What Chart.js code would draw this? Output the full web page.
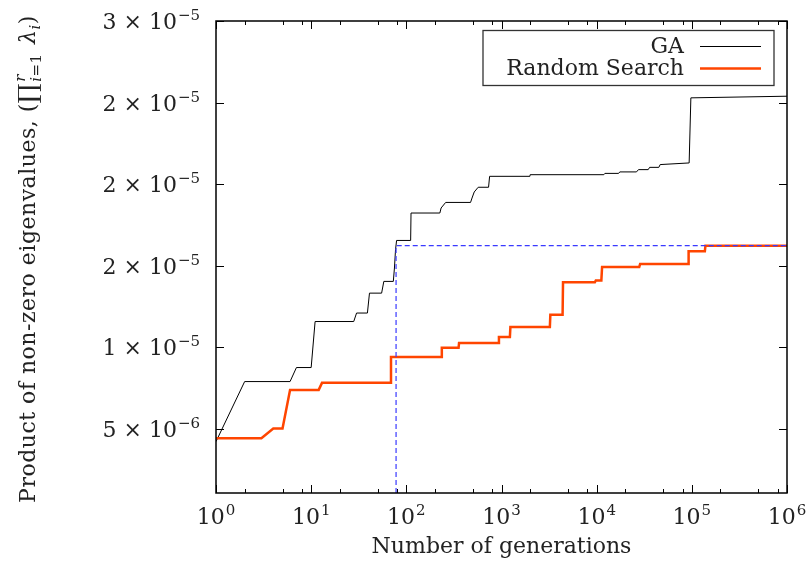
<!DOCTYPE html>
<html>
<head>
<meta charset="utf-8">
<title>GA vs Random Search</title>
<script src="https://cdn.jsdelivr.net/npm/chart.js"></script>
<style>
  html, body { margin: 0; padding: 0; background: #fff; }
  #chart-wrap { width: 807px; height: 566px; }
</style>
</head>
<body>
<div id="chart-wrap"><canvas id="eigen-chart" width="807" height="566"></canvas></div>
<script>
// Best product of non-zero eigenvalues found so far, in units of 1e-6,
// against the generation at which it was reached.
const gaGenerations = [1, 2, 6, 7, 10, 11, 28, 30, 39, 41, 55, 58, 73, 75, 77, 79, 111, 112, 225, 232,
  259, 473, 490, 517, 569, 731, 750, 1988, 2000, 11900, 12200, 17000, 17500, 26200, 27500, 34800,
  36000, 45000, 46500, 93700, 97700, 1000000];
const gaProduct = [4.22, 7.90, 7.90, 8.76, 8.76, 11.58, 11.58, 12.10, 12.10, 13.32, 13.32, 14.04, 14.04,
  14.86, 15.98, 16.55, 16.55, 18.23, 18.23, 18.54, 18.88, 18.88, 19.15, 19.52, 19.81, 19.81, 20.48,
  20.48, 20.58, 20.58, 20.66, 20.66, 20.75, 20.75, 20.89, 20.89, 21.03, 21.03, 21.20, 21.30, 25.29, 25.39];

const rsGenerations = [1, 3, 4, 5, 6, 12, 13, 68, 69, 233, 236, 354, 358, 923, 940, 1225, 1240, 3223,
  3260, 4385, 4430, 9570, 9800, 11200, 11400, 28000, 28600, 91400, 92500, 137000, 139000, 1000000];
const rsProduct = [4.43, 4.43, 5.02, 5.02, 7.39, 7.39, 7.82, 7.82, 9.40, 9.40, 9.97, 9.97, 10.26, 10.26,
  10.63, 10.63, 11.24, 11.24, 11.99, 11.99, 13.98, 13.98, 14.10, 14.10, 14.92, 14.92, 15.10, 15.10,
  15.88, 15.88, 16.23, 16.23];

// generation where GA passes the final random search value
const crossGeneration = 78;
const crossLevel = 16.23;

// axes
const xMin = 1, xMax = 1e6;
const yMin = 1.07, yMax = 30;
const xTickExponents = [0, 1, 2, 3, 4, 5, 6];
const xMinorSteps = [2, 5, 8];
const yTickValues = [5, 10, 15, 20, 25, 30];
const yTickMantissas = ['5', '1', '2', '2', '2', '3'];
const yTickExponents = ['\u22126', '\u22125', '\u22125', '\u22125', '\u22125', '\u22125'];

const FONT_FAMILY = '"DejaVu Serif", serif';
const MAIN_FONT = '22px ' + FONT_FAMILY;
const SUP_FONT = '15px ' + FONT_FAMILY;
const TEXT_COLOR = '#222';

const toPoints = (xs, ys) => xs.map((x, i) => ({ x: x, y: ys[i] }));

// writes base with a raised exponent, anchored right or centred on x
function drawPower(ctx, base, exp, x, baseline, align) {
    ctx.font = MAIN_FONT;
    const wb = ctx.measureText(base).width;
    ctx.font = SUP_FONT;
    const we = ctx.measureText(exp).width;
    const total = wb + 1 + we;
    const start = align === 'right' ? x - total : x - total / 2;
    ctx.textAlign = 'left';
    ctx.font = MAIN_FONT;
    ctx.fillText(base, start, baseline);
    ctx.font = SUP_FONT;
    ctx.fillText(exp, start + wb + 1, baseline - 9);
}

function drawYTitle(ctx, cx, cy) {
    const italicSmall = 'italic ' + SUP_FONT;
    const pieces = [
        { t: 'Product of non-zero eigenvalues, (', f: MAIN_FONT, dy: 0 },
        { t: '\u220F', f: '25px ' + FONT_FAMILY, dy: 1 },
        { stack: true },
        { t: ' ', f: MAIN_FONT, dy: 0 },
        { t: '\u03BB', f: 'italic ' + MAIN_FONT, dy: 0 },
        { t: 'i', f: italicSmall, dy: 5 },
        { t: ')', f: MAIN_FONT, dy: 0 }
    ];
    ctx.save();
    ctx.letterSpacing = '0.5px';
    // width of the stacked limits: i=1 below, r above
    ctx.font = italicSmall;
    const wi = ctx.measureText('i').width;
    const wr = ctx.measureText('r').width;
    ctx.font = SUP_FONT;
    const wEq = ctx.measureText('=1').width;
    const stackW = Math.max(wi + wEq, wr) + 3;

    let total = 0;
    pieces.forEach(p => {
        if (p.stack) { p.w = stackW; } else { ctx.font = p.f; p.w = ctx.measureText(p.t).width; }
        total += p.w;
    });

    ctx.translate(cx, cy);
    ctx.rotate(-Math.PI / 2);
    ctx.textAlign = 'left';
    let x = -total / 2;
    pieces.forEach(p => {
        if (p.stack) {
            ctx.font = italicSmall;
            ctx.fillText('r', x + 1, -10);
            ctx.fillText('i', x + 1, 6);
            ctx.font = SUP_FONT;
            ctx.fillText('=1', x + 1 + wi, 6);
        } else {
            ctx.font = p.f;
            ctx.fillText(p.t, x, p.dy);
        }
        x += p.w;
    });
    ctx.restore();
}

// frame, inward ticks, labels and key in the usual gnuplot look
const gnuplotFrame = {
    id: 'gnuplotFrame',
    afterDraw(chart) {
        const ctx = chart.ctx;
        const area = chart.chartArea;
        const xs = chart.scales.x;
        const ys = chart.scales.y;

        ctx.save();
        ctx.strokeStyle = '#000';
        ctx.lineWidth = 1;
        ctx.beginPath();
        xTickExponents.forEach(e => {
            const px = Math.round(xs.getPixelForValue(Math.pow(10, e))) + 0.5;
            ctx.moveTo(px, area.bottom); ctx.lineTo(px, area.bottom - 8);
            ctx.moveTo(px, area.top); ctx.lineTo(px, area.top + 8);
            if (e < 6) {
                xMinorSteps.forEach(m => {
                    const mx = Math.round(xs.getPixelForValue(m * Math.pow(10, e))) + 0.5;
                    ctx.moveTo(mx, area.bottom); ctx.lineTo(mx, area.bottom - 4);
                    ctx.moveTo(mx, area.top); ctx.lineTo(mx, area.top + 4);
                });
            }
        });
        yTickValues.forEach(v => {
            const py = Math.round(ys.getPixelForValue(v)) + 0.5;
            ctx.moveTo(area.left, py); ctx.lineTo(area.left + 8, py);
            ctx.moveTo(area.right, py); ctx.lineTo(area.right - 8, py);
        });
        ctx.stroke();

        ctx.lineWidth = 1.5;
        ctx.strokeRect(area.left, area.top, area.right - area.left, area.bottom - area.top);

        // tick labels
        ctx.fillStyle = TEXT_COLOR;
        ctx.textBaseline = 'alphabetic';
        xTickExponents.forEach(e => {
            const px = xs.getPixelForValue(Math.pow(10, e));
            drawPower(ctx, '10', String(e), px, area.bottom + 31, 'center');
        });
        yTickValues.forEach((v, i) => {
            const py = ys.getPixelForValue(v);
            drawPower(ctx, yTickMantissas[i] + ' \u00D7 10', yTickExponents[i], area.left - 16, py + 8, 'right');
        });

        // axis titles
        ctx.font = MAIN_FONT;
        ctx.textAlign = 'center';
        ctx.fillText('Number of generations', (area.left + area.right) / 2, area.bottom + 60);
        drawYTitle(ctx, 35, (area.top + area.bottom) / 2 + 2);

        // key
        const boxRight = area.right - 13;
        const boxLeft = boxRight - 291;
        const boxTop = area.top + 9.5;
        ctx.strokeStyle = '#333';
        ctx.lineWidth = 1.3;
        ctx.strokeRect(boxLeft, boxTop, boxRight - boxLeft, 55);
        const keyItems = [chart.data.datasets[2], chart.data.datasets[1]];
        keyItems.forEach((ds, i) => {
            const rowY = boxTop + 16 + i * 22;
            ctx.font = MAIN_FONT;
            ctx.textAlign = 'right';
            ctx.fillStyle = TEXT_COLOR;
            ctx.fillText(ds.label, boxLeft + 201, rowY + 6);
            ctx.strokeStyle = ds.borderColor;
            ctx.lineWidth = ds.borderWidth;
            ctx.beginPath();
            ctx.moveTo(boxLeft + 217, rowY);
            ctx.lineTo(boxLeft + 278, rowY);
            ctx.stroke();
        });
        ctx.restore();
    }
};

document.addEventListener('DOMContentLoaded', function() {
    const ctx = document.getElementById('eigen-chart').getContext('2d');

    new Chart(ctx, {
        type: 'line',
        data: {
            datasets: [
                {
                    label: 'Crossing',
                    data: [{ x: crossGeneration, y: yMin }, { x: crossGeneration, y: crossLevel }, { x: xMax, y: crossLevel }],
                    borderColor: '#3a3aff',
                    borderWidth: 1.2,
                    borderDash: [5, 3],
                    pointRadius: 0,
                    order: 0
                },
                {
                    label: 'Random Search',
                    data: toPoints(rsGenerations, rsProduct),
                    borderColor: '#ff4500',
                    borderWidth: 2.5,
                    pointRadius: 0,
                    order: 1
                },
                {
                    label: 'GA',
                    data: toPoints(gaGenerations, gaProduct),
                    borderColor: '#000000',
                    borderWidth: 1,
                    pointRadius: 0,
                    order: 2
                }
            ]
        },
        options: {
            responsive: false,
            animation: false,
            layout: { padding: { left: 216, right: 20, top: 21, bottom: 73 } },
            elements: { line: { tension: 0 } },
            scales: {
                x: { type: 'logarithmic', min: xMin, max: xMax, display: false },
                y: { type: 'linear', min: yMin, max: yMax, display: false }
            },
            plugins: {
                legend: { display: false },
                tooltip: { enabled: false }
            }
        },
        plugins: [gnuplotFrame]
    });
});
</script>
</body>
</html>
